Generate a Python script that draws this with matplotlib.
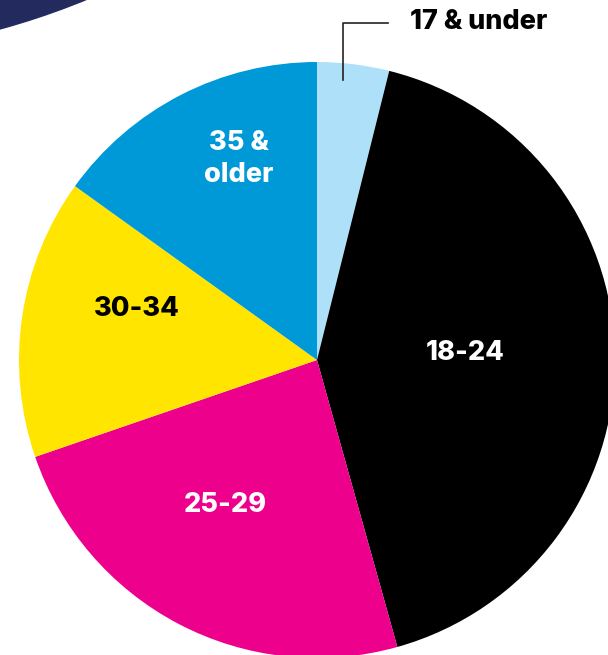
import matplotlib.pyplot as plt
from matplotlib.patches import Circle

# age groups, clockwise from 12 o'clock
groups = ['17 & under', '18-24', '25-29', '30-34', '35 &\nolder']
shares = [3.9, 41.8, 24.1, 15.2, 15.1]
colors = ['#aee0f9', '#000000', '#ec008c', '#ffe500', '#0099d8']
label_colors = ['#000000', '#ffffff', '#ffffff', '#000000', '#ffffff']

W, H = 608, 655
fig = plt.figure(figsize=(W / 100, H / 100), dpi=100)
ax = fig.add_axes([0, 0, 1, 1])

font = dict(family='Inter', fontweight='heavy')

# navy decoration in the top-left corner
ax.add_patch(Circle((-200, H + 698), 754, color='#232b5e', zorder=0))

cx, cy, r = 317, H - 360, 298
wedges, _ = ax.pie(shares, colors=colors, startangle=90, counterclock=False,
                   center=(cx, cy), radius=r, frame=True,
                   wedgeprops=dict(linewidth=0))
ax.set_xlim(0, W)
ax.set_ylim(0, H)
ax.set_aspect('equal')
ax.axis('off')

# in-slice labels (pixel positions from the top-left)
spots = {1: (465, 353), 2: (225, 505), 3: (137, 309), 4: (239, 159)}
for i, (x, y) in spots.items():
    ax.text(x, H - y, groups[i], color=label_colors[i], ha='center', va='center',
            fontsize=19.5, linespacing=1.25, **font)

# callout for the thin slice
ax.plot([343, 343, 388], [H - 80, H - 23, H - 23], color='#222222', linewidth=1.2)
ax.text(410, H - 22, groups[0], color='#000000', ha='left', va='center',
        fontsize=19.5, **font)

fig.savefig('out.png', dpi=100)
